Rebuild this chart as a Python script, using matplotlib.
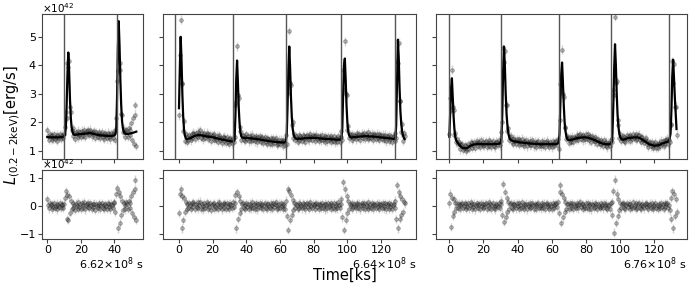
import numpy as np
import matplotlib
matplotlib.use("Agg")
import matplotlib.pyplot as plt

# QPE light curves, three observations, L in units of 1e42 erg/s, time in ks (0.5 ks bins)
step = 0.5
obs_labels = [r"6.62$\times$10$^{8}$ s", r"6.64$\times$10$^{8}$ s", r"6.76$\times$10$^{8}$ s"]

model_1 = """
1.49 1.49 1.48 1.48 1.48 1.48 1.48 1.48 1.48 1.48
1.48 1.48 1.48 1.48 1.48 1.48 1.49 1.49 1.49 1.50
1.52 1.55 1.8 2.6 3.7 4.45 3.8 2.8 2.15 1.82
1.67 1.6 1.57 1.57 1.57 1.58 1.58 1.58 1.59 1.59
1.59 1.60 1.60 1.60 1.60 1.61 1.61 1.62 1.62 1.62
1.63 1.63 1.63 1.62 1.61 1.60 1.60 1.59 1.58 1.57
1.57 1.56 1.56 1.55 1.55 1.55 1.54 1.54 1.54 1.54
1.53 1.53 1.53 1.53 1.53 1.53 1.53 1.53 1.54 1.54
1.55 1.6 1.7 2.8 4.6 5.55 4.7 3.5 2.6 2.05
1.8 1.68 1.62 1.61 1.60 1.60 1.60 1.61 1.61 1.62
1.62 1.63 1.64 1.65 1.66 1.67 1.68
"""
resid_1 = """
0.25 0.05 -0.08 0.12 0.03 -0.1 0.07 -0.04 0.1 -0.06
0.02 0.09 -0.12 0.05 -0.03 0.11 -0.07 0.04 0.08 -0.05
0.06 0.3 0.55 -0.45 0.4 -0.5 0.35 -0.25 0.2 -0.1
0.12 -0.08 0.05 -0.14 0.09 0.02 -0.1 0.13 -0.04 0.07
-0.09 0.11 0.03 -0.06 0.14 -0.12 0.05 0.08 -0.03 0.1
-0.07 0.12 0.04 -0.11 0.06 -0.02 0.09 -0.13 0.07 0.01
-0.08 0.1 0.05 -0.1 0.03 0.12 -0.06 0.04 -0.11 0.08
0.02 -0.09 0.11 -0.04 0.06 -0.12 0.09 0.03 -0.07 0.1
0.15 -0.2 0.45 0.65 -0.8 0.5 -0.6 0.35 -0.3 0.2
-0.15 0.1 0.05 -0.12 0.14 0.08 -0.1 0.18 -0.06 0.12
0.35 -0.25 0.5 -0.4 0.95 0.6 -0.5
"""
model_2 = """
2.5 3.9 5.0 4.2 3.0 2.2 1.75 1.55 1.45 1.42
1.42 1.43 1.44 1.45 1.46 1.48 1.49 1.5 1.52 1.53
1.54 1.55 1.55 1.56 1.56 1.56 1.55 1.55 1.54 1.53
1.53 1.52 1.52 1.51 1.51 1.5 1.5 1.5 1.49 1.49
1.48 1.48 1.47 1.46 1.45 1.45 1.44 1.43 1.42 1.42
1.41 1.4 1.4 1.39 1.39 1.38 1.37 1.37 1.36 1.36
1.35 1.35 1.34 1.34 1.34 1.34 1.4 2.2 3.5 4.17
3.4 2.5 1.95 1.65 1.52 1.47 1.46 1.46 1.46 1.46
1.46 1.46 1.45 1.45 1.45 1.45 1.44 1.44 1.44 1.43
1.43 1.43 1.42 1.42 1.41 1.41 1.4 1.4 1.39 1.39
1.38 1.38 1.37 1.37 1.36 1.36 1.35 1.35 1.34 1.34
1.34 1.33 1.33 1.33 1.32 1.32 1.32 1.31 1.31 1.31
1.31 1.3 1.3 1.3 1.3 1.3 1.31 1.35 1.6 2.6
3.9 4.66 3.9 2.9 2.2 1.8 1.6 1.5 1.46 1.44
1.43 1.43 1.43 1.43 1.43 1.43 1.44 1.44 1.44 1.44
1.45 1.45 1.45 1.45 1.46 1.46 1.46 1.46 1.46 1.46
1.46 1.46 1.46 1.45 1.45 1.45 1.45 1.44 1.44 1.44
1.44 1.43 1.43 1.43 1.43 1.42 1.42 1.42 1.42 1.42
1.42 1.41 1.41 1.41 1.41 1.41 1.4 1.4 1.4 1.4
1.4 1.4 1.41 1.45 1.8 3.0 4.0 4.24 3.5 2.6
2.0 1.7 1.56 1.5 1.48 1.48 1.48 1.48 1.49 1.49
1.49 1.5 1.5 1.5 1.5 1.51 1.51 1.51 1.51 1.52
1.52 1.52 1.52 1.52 1.52 1.52 1.51 1.51 1.51 1.51
1.51 1.5 1.5 1.5 1.5 1.49 1.49 1.49 1.48 1.48
1.48 1.47 1.47 1.47 1.46 1.46 1.46 1.45 1.45 1.45
1.44 1.44 1.44 1.43 1.43 1.42 1.42 1.43 1.9 3.4
4.9 4.3 3.2 2.4 1.95 1.7 1.55 1.47 1.42
"""
resid_2 = """
-0.25 0.45 0.6 -0.8 0.35 -0.5 0.3 -0.2 0.15 -0.1
0.08 -0.05 0.12 0.03 -0.09 0.1 -0.04 0.14 0.06 -0.11
0.09 -0.03 0.13 -0.08 0.05 0.16 -0.1 0.07 0.02 -0.12
0.11 -0.06 0.04 0.13 -0.09 0.08 -0.02 0.1 -0.13 0.05
0.07 -0.1 0.12 0.01 -0.07 0.09 -0.11 0.06 0.14 -0.04
0.03 -0.12 0.08 0.11 -0.05 0.07 -0.09 0.12 -0.03 0.06
-0.1 0.09 0.04 -0.07 0.13 -0.02 0.1 0.4 -0.8 0.5
-0.45 0.35 -0.25 0.2 -0.12 0.08 0.11 -0.06 0.04 -0.1
0.12 -0.03 0.07 -0.11 0.09 0.02 -0.08 0.13 -0.05 0.06
-0.09 0.1 0.04 -0.12 0.08 -0.02 0.11 -0.07 0.05 0.09
-0.1 0.03 0.12 -0.06 0.08 -0.11 0.07 0.02 -0.08 0.1
0.05 -0.09 0.11 -0.04 0.06 0.13 -0.1 0.03 -0.06 0.09
-0.07 0.1 0.02 -0.11 0.08 0.05 -0.09 0.2 -0.35 0.6
-0.85 0.55 -0.5 0.4 -0.3 0.22 -0.15 0.1 -0.06 0.08
0.04 -0.1 0.12 -0.05 0.09 0.01 -0.08 0.11 -0.03 0.07
-0.12 0.06 0.1 -0.04 0.08 -0.09 0.13 0.02 -0.06 0.09
0.05 -0.11 0.07 0.12 -0.03 0.06 -0.1 0.08 0.03 -0.07
0.11 -0.05 0.04 -0.12 0.09 0.07 -0.08 0.1 -0.02 0.05
-0.09 0.12 0.03 -0.06 0.1 -0.11 0.06 0.02 -0.08 0.13
0.04 -0.07 0.09 0.25 -0.4 0.85 -0.85 0.6 -0.5 0.35
-0.25 0.18 -0.12 0.08 0.05 -0.1 0.11 -0.04 0.07 0.02
-0.08 0.12 0.06 -0.05 0.09 -0.12 0.04 0.1 -0.07 0.03
0.11 -0.09 0.06 0.02 -0.1 0.13 -0.04 0.07 -0.06 0.1
0.03 -0.11 0.08 0.05 -0.07 0.12 -0.02 0.09 -0.1 0.04
0.07 -0.05 0.1 -0.08 0.02 0.11 -0.12 0.06 0.04 -0.09
0.12 -0.03 0.08 -0.1 0.05 0.09 -0.06 0.2 -0.45 0.75
-0.8 0.5 -0.45 0.35 -0.3 0.25 -0.2 0.15 0.1
"""
model_3 = """
1.5 2.4 3.2 3.55 2.9 2.2 1.75 1.5 1.38 1.32
1.28 1.24 1.2 1.17 1.14 1.12 1.11 1.1 1.1 1.1
1.1 1.11 1.13 1.15 1.17 1.19 1.2 1.21 1.22 1.23
1.23 1.24 1.24 1.25 1.25 1.25 1.25 1.25 1.24 1.24
1.24 1.24 1.24 1.24 1.24 1.24 1.24 1.24 1.24 1.24
1.24 1.24 1.24 1.25 1.25 1.25 1.25 1.25 1.26 1.26
1.28 1.45 2.3 3.8 4.66 4.0 3.0 2.3 1.9 1.65
1.5 1.42 1.39 1.37 1.36 1.35 1.34 1.33 1.33 1.32
1.32 1.31 1.31 1.3 1.3 1.3 1.29 1.29 1.29 1.28
1.28 1.28 1.27 1.27 1.27 1.26 1.26 1.26 1.26 1.25
1.25 1.25 1.25 1.25 1.25 1.24 1.24 1.24 1.24 1.24
1.24 1.24 1.24 1.24 1.24 1.24 1.24 1.24 1.24 1.24
1.24 1.24 1.24 1.24 1.24 1.24 1.25 1.27 1.32 1.6
2.6 3.7 4.1 3.4 2.6 2.0 1.7 1.52 1.43 1.39
1.38 1.38 1.38 1.39 1.4 1.41 1.42 1.43 1.44 1.45
1.45 1.46 1.46 1.47 1.47 1.47 1.48 1.48 1.48 1.48
1.48 1.47 1.47 1.46 1.45 1.44 1.43 1.42 1.41 1.4
1.38 1.37 1.36 1.34 1.33 1.32 1.3 1.29 1.28 1.27
1.26 1.25 1.25 1.24 1.24 1.24 1.24 1.24 1.25 1.27
1.3 1.6 2.6 3.9 4.74 4.0 3.0 2.25 1.85 1.62
1.5 1.44 1.41 1.4 1.4 1.41 1.42 1.43 1.44 1.45
1.45 1.46 1.46 1.47 1.47 1.47 1.48 1.48 1.48 1.48
1.48 1.47 1.46 1.45 1.44 1.42 1.4 1.38 1.36 1.34
1.32 1.3 1.28 1.26 1.24 1.23 1.22 1.21 1.2 1.2
1.19 1.19 1.19 1.2 1.2 1.21 1.22 1.23 1.24 1.26
1.27 1.28 1.29 1.3 1.31 1.32 1.33 1.35 1.45 1.6
2.4 3.6 4.2 3.6 2.9 2.3 1.77
"""
resid_3 = """
0.1 0.45 -0.75 0.3 -0.35 0.25 -0.2 0.12 -0.08 0.1
-0.05 0.09 0.03 -0.11 0.07 0.12 -0.06 0.02 0.1 -0.09
0.06 -0.03 0.11 -0.08 0.04 0.13 -0.1 0.07 -0.02 0.09
-0.12 0.05 0.1 -0.06 0.03 0.08 -0.11 0.12 0.01 -0.07
0.09 -0.04 0.06 0.11 -0.09 0.03 0.13 -0.05 0.07 -0.1
0.04 0.1 -0.07 0.02 -0.12 0.08 0.05 -0.03 0.11 -0.06
0.07 0.2 -0.3 0.8 -0.55 0.5 -0.4 0.3 -0.2 0.15
-0.1 0.08 0.12 -0.05 0.06 -0.11 0.09 0.03 -0.08 0.1
0.02 -0.09 0.11 0.05 -0.06 0.13 -0.03 0.07 -0.1 0.04
0.09 -0.12 0.06 0.01 -0.07 0.1 -0.04 0.12 0.05 -0.09
0.08 0.03 -0.11 0.06 0.1 -0.05 0.02 -0.08 0.11 0.04
-0.06 0.09 -0.1 0.07 0.12 -0.03 0.05 -0.09 0.08 0.02
-0.11 0.1 0.04 -0.07 0.06 0.11 -0.04 0.15 -0.25 0.5
0.75 -0.6 0.45 -0.4 0.3 -0.2 0.15 -0.1 0.08 0.06
-0.09 0.11 0.03 -0.06 0.1 -0.1 0.07 0.02 -0.05 0.12
0.05 -0.08 0.09 0.13 -0.04 0.06 -0.11 0.08 0.01 -0.07
0.1 -0.05 0.12 -0.09 0.04 0.07 -0.12 0.09 0.03 -0.06
0.11 -0.03 0.06 -0.1 0.08 0.02 -0.07 0.1 -0.04 0.05
-0.08 0.12 0.04 -0.06 0.09 -0.11 0.05 0.03 -0.09 0.1
0.15 -0.3 0.55 -0.95 0.95 -0.6 0.45 -0.35 0.25 -0.15
0.1 -0.08 0.06 0.11 -0.05 0.08 -0.1 0.03 0.12 -0.04
0.07 -0.11 0.09 0.02 -0.06 0.13 -0.03 0.05 -0.09 0.1
-0.05 0.08 0.11 -0.07 0.04 -0.1 0.09 0.02 -0.08 0.06
0.12 -0.04 0.07 -0.11 0.03 0.09 -0.06 0.1 -0.02 -0.09
0.05 0.11 -0.07 0.04 -0.1 0.08 0.02 -0.05 0.12 -0.03
0.07 -0.09 0.1 -0.04 0.06 0.11 -0.08 0.03 -0.15 0.3
-0.45 0.55 -0.8 0.45 -0.35 0.25 -0.2
"""
# flare start markers (ks)
flare_starts = [[10.1, 41.2], [-2.2, 32.0, 63.3, 96.0, 128.4], [0.0, 30.0, 64.0, 94.6, 128.8]]
lum_err = 0.15

models = [np.array(s.split(), float) for s in (model_1, model_2, model_3)]
resids = [np.array(s.split(), float) for s in (resid_1, resid_2, resid_3)]

xlims = [(-3, 57), (-9.5, 141), (-7.6, 139)]
widths = [101, 254, 251]

fig = plt.figure(figsize=(6.93, 2.85), dpi=100)
gs = fig.add_gridspec(2, 3, width_ratios=widths, height_ratios=[145, 69],
                      left=0.061, right=0.991, top=0.951, bottom=0.161,
                      wspace=0.099, hspace=0.103)

spine_col = "#444444"


def draw_points(a, t, y):
    a.errorbar(t, y, yerr=lum_err, fmt="none", ecolor="k", alpha=0.18,
               elinewidth=1.0, capsize=0)
    a.plot(t, y, "o", ms=2.6, color="k", alpha=0.35, mew=0.6, mfc="0.3")


for i in range(3):
    model = models[i]
    res = resids[i]
    n = min(len(model), len(res))
    t = step * np.arange(n)
    lum = model[:n] + res[:n]

    ax = fig.add_subplot(gs[0, i])
    axr = fig.add_subplot(gs[1, i])

    draw_points(ax, t, lum)
    ax.plot(t, model[:n], color="k", lw=1.6)
    for fs in flare_starts[i]:
        ax.axvline(fs, color="#555555", lw=1.0)

    draw_points(axr, t, res[:n])

    for a in (ax, axr):
        a.set_xlim(*xlims[i])
        a.set_xticks([0, 20, 40] if i == 0 else [0, 20, 40, 60, 80, 100, 120])
        a.tick_params(labelsize=8, length=3, pad=1.5, color=spine_col)
        for sp in a.spines.values():
            sp.set_color(spine_col)
    ax.set_ylim(0.72, 5.8)
    ax.set_yticks([1, 2, 3, 4, 5])
    axr.set_ylim(-1.18, 1.29)
    axr.set_yticks([-1, 0, 1])
    ax.tick_params(labelbottom=False)
    if i > 0:
        ax.tick_params(labelleft=False)
        axr.tick_params(labelleft=False)
    else:
        ax.text(0.0, 0.995, r"$\times10^{42}$", transform=ax.transAxes,
                ha="left", va="bottom", fontsize=7.5)
        axr.text(0.0, 0.99, r"$\times10^{42}$", transform=axr.transAxes,
                 ha="left", va="bottom", fontsize=7.5)
    axr.text(1.0, -0.23, obs_labels[i], transform=axr.transAxes,
             ha="right", va="top", fontsize=8)

fig.text(0.017, 0.56, r"$L_{(0.2-2\mathrm{keV})}$[erg/s]", rotation=90,
         ha="center", va="center", fontsize=10.5)
fig.text(0.498, 0.033, "Time[ks]", ha="center", va="center", fontsize=10.5)

fig.savefig("out.png", dpi=100)
